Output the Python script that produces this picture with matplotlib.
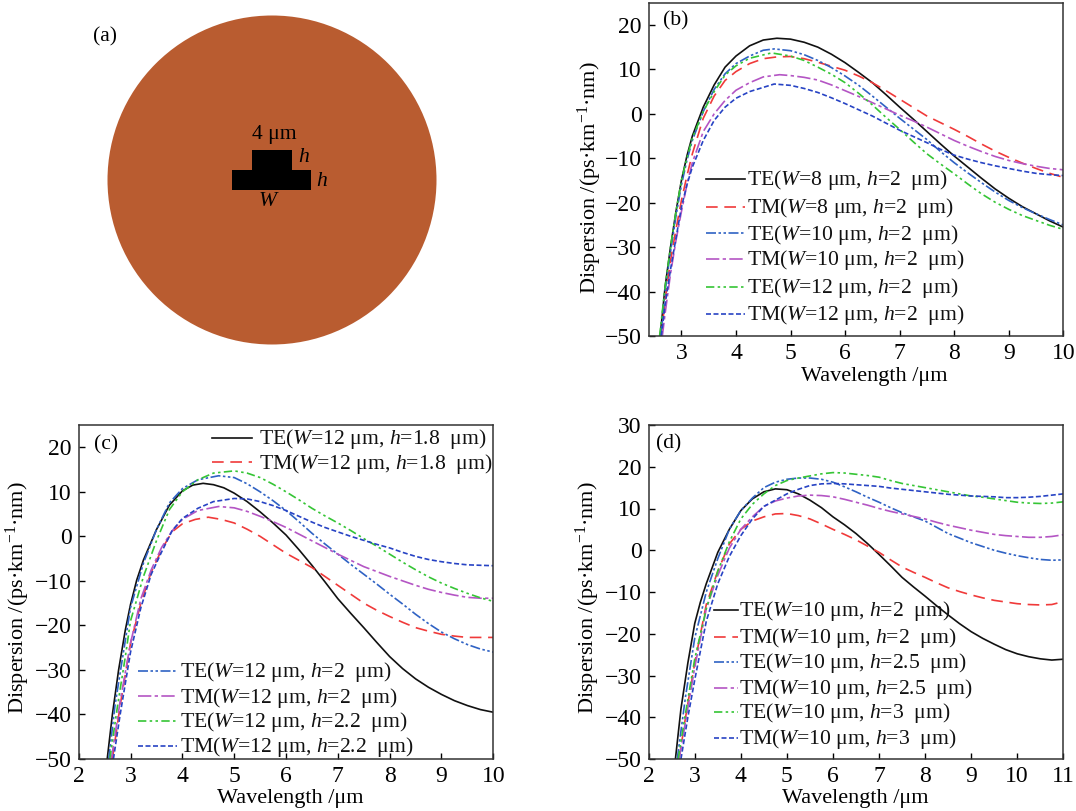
import matplotlib
matplotlib.use('Agg')
import matplotlib.pyplot as plt
from matplotlib.patches import Circle, Polygon

# fonts
plt.rcParams['font.family'] = ['Liberation Serif', 'DejaVu Serif']
plt.rcParams['mathtext.fontset'] = 'custom'
plt.rcParams['mathtext.rm'] = 'Liberation Serif'
plt.rcParams['mathtext.it'] = 'Liberation Serif:italic'
plt.rcParams['axes.unicode_minus'] = True

W, H = 1076, 811
FS = 15.6
LABEL_FS = 16
TICK_FS = 17

RED = '#f03a3a'
BLUE = '#2f62c4'
PURPLE = '#b455c4'
GREEN = '#35c535'
NAVY = '#2743c4'
STYLES = [
    ('#111111', '-'),
    (RED, (0, (7, 4))),
    (BLUE, (0, (6, 1.5, 1.5, 1.5, 1.5, 1.5))),
    (PURPLE, (0, (8, 2, 2, 2))),
    (GREEN, (0, (5, 2, 1.5, 2, 1.5, 2))),
    (NAVY, (0, (3, 1.5))),
]

# x values shared by every curve from 5 um upward
grid_10 = [5, 5.25, 5.5, 5.75, 6, 6.25, 6.5, 6.75, 7, 7.25, 7.5, 7.75, 8, 8.25, 8.5, 8.75, 9, 9.25, 9.5, 9.75, 10]
grid_11 = grid_10 + [10.25, 10.5, 10.75, 11]

# panel (b), head is the steep part below 5 um
b_x0 = [2.61, 2.7, 2.8, 2.9, 3, 3.1, 3.2, 3.4, 3.6, 3.8, 4, 4.25, 4.5, 4.75]
b_y0 = [-50, -39, -30, -22, -15, -9.5, -5, 1.5, 6.5, 10.5, 13, 15.3, 16.6, 17]
b_te8 = [16.8, 16.1, 15, 13.4, 11.5, 9.3, 7, 4.3, 1.5, -1.2, -4, -6.8, -9.5, -12, -14.5, -16.9, -19, -20.9, -22.5, -24.1, -25.5]
b_x1 = [2.63, 2.7, 2.8, 2.9, 3, 3.1, 3.2, 3.4, 3.6, 3.8, 4, 4.25, 4.5, 4.75]
b_y1 = [-50, -42, -33, -26, -19.5, -14, -9, -1, 4, 7.5, 9.5, 11.3, 12.4, 12.8]
b_tm8 = [12.9, 12.4, 11.6, 10.7, 9.8, 8.5, 7, 5.2, 3.3, 1.4, -0.5, -2, -3.5, -5.1, -6.8, -8.4, -9.8, -11.1, -12.3, -13.4, -14.3]
b_x2 = [2.62, 2.7, 2.8, 2.9, 3, 3.1, 3.2, 3.4, 3.6, 3.8, 4, 4.25, 4.5, 4.7]
b_y2 = [-50, -40, -31, -23, -16, -10.5, -6, 0.5, 5.5, 9, 11.3, 13, 14.3, 14.6]
b_te10 = [14.2, 13.3, 12, 10.4, 8.5, 6.4, 4, 1.5, -1, -3.4, -5.8, -8.5, -11, -13.3, -15.5, -17.6, -19.5, -21.1, -22.5, -23.8, -25]
b_x3 = [2.65, 2.7, 2.8, 2.9, 3, 3.1, 3.2, 3.4, 3.6, 3.8, 4, 4.25, 4.5, 4.8]
b_y3 = [-50, -45, -36, -28.5, -22, -16, -11, -4, 0, 3, 5.3, 7, 8.3, 8.8]
b_tm10 = [8.6, 8.2, 7.6, 6.5, 5.2, 3.9, 2.5, 1.1, -0.3, -1.6, -3, -4.5, -6, -7.3, -8.5, -9.6, -10.5, -11.2, -11.8, -12.3, -12.6]
b_x4 = [2.6, 2.7, 2.8, 2.9, 3, 3.1, 3.2, 3.4, 3.6, 3.8, 4, 4.25, 4.65]
b_y4 = [-50, -39, -30, -22, -15, -10, -5.5, 0.5, 5, 8.7, 10.8, 12.5, 13.7]
b_te12 = [13, 12, 10.5, 8.9, 7, 4.6, 2, -0.8, -3.5, -6.3, -9, -11.3, -13.5, -15.8, -18, -19.9, -21.5, -22.9, -24, -25.1, -26]
b_x5 = [2.63, 2.7, 2.8, 2.9, 3, 3.1, 3.2, 3.4, 3.6, 3.8, 4, 4.25, 4.7]
b_y5 = [-50, -43, -35, -28, -21, -16, -12, -6, -1.5, 1.5, 3.5, 5, 6.7]
b_tm12 = [6.4, 5.7, 4.8, 3.6, 2.3, 0.9, -0.5, -2.1, -3.7, -5.1, -6.5, -8, -9.3, -10.2, -11, -11.7, -12.3, -12.9, -13.4, -13.7, -13.9]
b_labels = ['TE($\\mathit{W}$=8 μm, $\\mathit{h}$=2  μm)', 'TM($\\mathit{W}$=8 μm, $\\mathit{h}$=2  μm)',
            'TE($\\mathit{W}$=10 μm, $\\mathit{h}$=2  μm)', 'TM($\\mathit{W}$=10 μm, $\\mathit{h}$=2  μm)',
            'TE($\\mathit{W}$=12 μm, $\\mathit{h}$=2  μm)', 'TM($\\mathit{W}$=12 μm, $\\mathit{h}$=2  μm)']

# panel (c)
c_x0 = [2.55, 2.65, 2.77, 2.9, 3, 3.12, 3.25, 3.5, 3.75, 4, 4.2, 4.4, 4.6, 4.8]
c_y0 = [-50, -40, -30, -21, -15.3, -9.8, -5.3, 1.5, 7, 10.2, 11.5, 11.9, 11.6, 10.9]
c_te18 = [9.7, 7.8, 5.5, 3, 0.3, -3, -6.5, -10.2, -14, -17.3, -20.5, -23.8, -27, -29.7, -32, -33.9, -35.5, -36.9, -38, -38.9, -39.5]
c_x1 = [2.65, 2.8, 3, 3.2, 3.4, 3.6, 3.8, 4, 4.25, 4.5, 4.75]
c_y1 = [-50, -38, -24, -15, -8, -3, 1, 2.8, 3.8, 4.3, 3.8]
c_tm18 = [3, 1.6, 0, -1.9, -3.8, -5.4, -7, -9, -11, -13, -15, -16.6, -18, -19.3, -20.5, -21.3, -22, -22.4, -22.7, -22.7, -22.7]
c_x2 = [2.58, 2.7, 2.85, 3, 3.25, 3.5, 3.75, 4, 4.3, 4.7]
c_y2 = [-50, -38, -27, -16, -6, 1.5, 7.5, 10.7, 12.7, 13.6]
c_te2 = [13.2, 11.8, 10, 8, 5.8, 3.3, 0.7, -1.7, -4, -6.3, -8.5, -10.7, -13, -15.2, -17.5, -19.6, -21.5, -23, -24.3, -25.3, -26]
c_x3 = [2.63, 2.8, 3, 3.2, 3.4, 3.6, 3.8, 4, 4.3, 4.7]
c_y3 = [-50, -37, -24, -14, -7.5, -2.5, 1.2, 3.8, 5.8, 6.7]
c_tm2 = [6.4, 5.6, 4.5, 3.3, 2, 0.5, -1, -2.5, -4, -5.4, -6.8, -7.9, -9, -10, -11, -11.9, -12.6, -13.2, -13.7, -13.9, -13.9]
c_x4 = [2.6, 2.75, 2.9, 3, 3.25, 3.5, 3.75, 4, 4.3, 4.6]
c_y4 = [-50, -38, -27, -19, -9, -1, 6, 10, 12.7, 14.2]
c_te22 = [14.7, 14.2, 13.2, 11.7, 10, 8.2, 6.3, 4.6, 3, 1.3, -0.5, -2.2, -4, -5.8, -7.5, -9.1, -10.5, -11.7, -12.8, -13.8, -14.6]
c_x5 = [2.67, 2.8, 3, 3.2, 3.4, 3.6, 3.8, 4, 4.3, 4.6]
c_y5 = [-50, -40, -26, -16, -8.5, -3.5, 1.2, 4, 6.3, 7.8]
c_tm22 = [8.5, 8.4, 7.8, 6.9, 5.8, 4.5, 3.2, 2, 1, 0, -0.9, -1.8, -2.6, -3.6, -4.5, -5.2, -5.7, -6.1, -6.4, -6.5, -6.6]
c_labels = ['TE($\\mathit{W}$=12 μm, $\\mathit{h}$=1.8  μm)', 'TM($\\mathit{W}$=12 μm, $\\mathit{h}$=1.8  μm)',
            'TE($\\mathit{W}$=12 μm, $\\mathit{h}$=2  μm)', 'TM($\\mathit{W}$=12 μm, $\\mathit{h}$=2  μm)',
            'TE($\\mathit{W}$=12 μm, $\\mathit{h}$=2.2  μm)', 'TM($\\mathit{W}$=12 μm, $\\mathit{h}$=2.2  μm)']

# panel (d)
d_x0 = [2.58, 2.7, 2.85, 3, 3.12, 3.25, 3.5, 3.75, 4, 4.25, 4.5, 4.75]
d_y0 = [-50, -38, -27, -17.5, -12.5, -8, -0.5, 5, 9.5, 12.3, 14, 14.7]
d_te2 = [14.5, 13.5, 12, 10.2, 8, 6.1, 4, 1.6, -1, -3.7, -6.5, -8.8, -11, -13.3, -15.5, -17.6, -19.5, -21.1, -22.5, -23.8, -24.8, -25.5, -26, -26.3, -26.1]
d_x1 = [2.66, 2.8, 3, 3.25, 3.5, 3.75, 4, 4.25, 4.5, 4.75]
d_y1 = [-50, -40, -27, -13, -5, 1.5, 5, 7, 8, 8.7]
d_tm2 = [8.8, 8.3, 7.5, 6.3, 5, 3.8, 2.5, 1, -0.5, -2.3, -4, -5.3, -6.5, -7.8, -9, -9.9, -10.7, -11.4, -12, -12.4, -12.8, -13, -13.1, -13, -12.3]
d_x2 = [2.62, 2.8, 3, 3.25, 3.5, 3.75, 4, 4.25, 4.5, 4.75]
d_y2 = [-50, -35, -21, -10, -2, 5, 9.5, 12.5, 15, 16.3]
d_te25 = [17, 17.3, 17.3, 17, 16.3, 15.2, 14, 12.7, 11.5, 10.2, 9, 8, 7, 5.5, 4, 2.9, 1.8, 0.9, 0, -0.7, -1.3, -1.8, -2.2, -2.4, -2.3]
d_x3 = [2.66, 2.8, 3, 3.25, 3.5, 3.75, 4, 4.25, 4.5, 4.75]
d_y3 = [-50, -41, -28, -14, -6, 0.5, 5, 8, 10.5, 11.8]
d_tm25 = [12.5, 13, 13.2, 13.1, 12.8, 12.2, 11.5, 10.8, 10, 9.3, 8.7, 8.1, 7.5, 6.7, 6, 5.4, 4.8, 4.3, 3.8, 3.5, 3.3, 3.1, 3.1, 3.3, 3.7]
d_x4 = [2.64, 2.8, 3, 3.25, 3.5, 3.75, 4, 4.25, 4.5, 4.75]
d_y4 = [-50, -39, -26, -14, -5, 2, 7.5, 11, 13.5, 15.5]
d_te3 = [16.7, 17.3, 17.8, 18.3, 18.6, 18.5, 18.2, 17.9, 17.5, 16.7, 16, 15.5, 15, 14.5, 14, 13.5, 13, 12.7, 12.3, 11.9, 11.5, 11.3, 11.2, 11.3, 11.6]
d_x5 = [2.7, 2.85, 3, 3.25, 3.5, 3.75, 4, 4.25, 4.5, 4.75]
d_y5 = [-50, -40, -31, -17, -8, -1.5, 3.5, 7.5, 10.5, 12]
d_tm3 = [13.5, 14.6, 15.5, 15.9, 16, 15.9, 15.7, 15.5, 15.3, 14.9, 14.6, 14.3, 14, 13.7, 13.4, 13.2, 13, 12.9, 12.8, 12.6, 12.6, 12.7, 12.9, 13.2, 13.5]
d_labels = ['TE($\\mathit{W}$=10 μm, $\\mathit{h}$=2  μm)', 'TM($\\mathit{W}$=10 μm, $\\mathit{h}$=2  μm)',
            'TE($\\mathit{W}$=10 μm, $\\mathit{h}$=2.5  μm)', 'TM($\\mathit{W}$=10 μm, $\\mathit{h}$=2.5  μm)',
            'TE($\\mathit{W}$=10 μm, $\\mathit{h}$=3  μm)', 'TM($\\mathit{W}$=10 μm, $\\mathit{h}$=3  μm)']


def make_axes(fig, left, top, right, bottom, xlab, ylab):
    '''axes from pixel edges, xlab and ylab are label centres in pixels'''
    ax = fig.add_axes([left/W, 1-bottom/H, (right-left)/W, (bottom-top)/H])
    ax.tick_params(direction='in', length=4, width=1, labelsize=TICK_FS, pad=5, top=False, right=False)
    for s in ax.spines.values():
        s.set_linewidth(1.1)
        s.set_color('#333333')
    ax.set_xlabel('Wavelength /μm', fontsize=LABEL_FS, va='center')
    ax.set_ylabel('Dispersion /(ps·km$^{-1}$·nm)', fontsize=LABEL_FS, va='center')
    ax.xaxis.set_label_coords((xlab[0]-left)/(right-left), (bottom-xlab[1])/(bottom-top))
    ax.yaxis.set_label_coords((ylab[0]-left)/(right-left), (bottom-ylab[1])/(bottom-top))
    return ax


def plot_panel(ax, curves, labels, keys, key_x):
    '''draw curves plus hand placed key rows, keys are y values in data units'''
    for i, (x, y) in enumerate(curves):
        color, ls = STYLES[i]
        ax.plot(x, y, color=color, ls=ls, lw=1.2)
    for i, label in enumerate(labels):
        color, ls = STYLES[i]
        x0, x1, xt = key_x[i]
        ax.plot([x0, x1], [keys[i], keys[i]], color=color, ls=ls, lw=1.2)
        ax.text(xt, keys[i]-0.3, label, fontsize=FS, va='center', ha='left', color='#111111')


fig = plt.figure(figsize=(W/100, H/100), dpi=100)

# panel (a) drawn in pixel coordinates
bg = fig.add_axes([0, 0, 1, 1])
bg.set_xlim(0, W)
bg.set_ylim(H, 0)
bg.axis('off')
bg.add_patch(Circle((272, 180), 164.5, color='#b95c30', lw=0))
bg.add_patch(Polygon([(252, 150), (292, 150), (292, 170), (311, 170), (311, 190),
                      (232, 190), (232, 170), (252, 170)], color='black', lw=0))
bg.text(93, 37, '(a)', fontsize=FS, va='center')
bg.text(274.5, 135, '4 μm', fontsize=FS, va='center', ha='center')
bg.text(304, 158, '$\\mathit{h}$', fontsize=FS, va='center', ha='center')
bg.text(322, 181, '$\\mathit{h}$', fontsize=FS, va='center', ha='center')
bg.text(269, 201, '$\\mathit{W}$', fontsize=FS, va='center', ha='center')

# panel (b)
ax = make_axes(fig, 648.7, 2.7, 1063.3, 336, (874, 377), (590, 178))
plot_panel(ax,
           [(b_x0+grid_10, b_y0+b_te8), (b_x1+grid_10, b_y1+b_tm8), (b_x2+grid_10, b_y2+b_te10),
            (b_x3+grid_10, b_y3+b_tm10), (b_x4+grid_10, b_y4+b_te12), (b_x5+grid_10, b_y5+b_tm12)],
           b_labels, [-14.7, -20.9, -26.9, -32.7, -38.9, -45], [(3.45, 4.17, 4.2)]*6)
ax.set_xlim(2.4, 10)
ax.set_ylim(-50, 25)
ax.set_xticks(range(3, 11))
ax.set_yticks(range(-50, 21, 10))
ax.text(2.66, 21, '(b)', fontsize=FS, va='center')

# panel (c)
ax = make_axes(fig, 78.7, 425, 493.3, 759, (290, 798), (18, 598))
plot_panel(ax,
           [(c_x0+grid_10, c_y0+c_te18), (c_x1+grid_10, c_y1+c_tm18), (c_x2+grid_10, c_y2+c_te2),
            (c_x3+grid_10, c_y3+c_tm2), (c_x4+grid_10, c_y4+c_te22), (c_x5+grid_10, c_y5+c_tm22)],
           c_labels, [22.1, 16.6, -30.2, -35.9, -41.4, -47.1],
           [(4.58, 5.34, 5.48)]*2 + [(3.14, 3.89, 3.95)]*4)
ax.set_xlim(2, 10)
ax.set_ylim(-50, 25)
ax.set_xticks(range(2, 11))
ax.set_yticks(range(-50, 21, 10))
ax.text(2.3, 20.5, '(c)', fontsize=FS, va='center')

# panel (d)
ax = make_axes(fig, 648.7, 425, 1063.3, 759, (855.7, 798), (588, 598))
plot_panel(ax,
           [(d_x0+grid_11, d_y0+d_te2), (d_x1+grid_11, d_y1+d_tm2), (d_x2+grid_11, d_y2+d_te25),
            (d_x3+grid_11, d_y3+d_tm25), (d_x4+grid_11, d_y4+d_te3), (d_x5+grid_11, d_y5+d_tm3)],
           d_labels, [-14.3, -20.7, -26.7, -32.9, -38.7, -45], [(3.42, 3.93, 3.97)]*6)
ax.set_xlim(2, 11)
ax.set_ylim(-50, 30)
ax.set_xticks(range(2, 12))
ax.set_yticks(range(-50, 31, 10))
ax.text(2.16, 25.5, '(d)', fontsize=FS, va='center')

fig.savefig('out.png', dpi=100)
